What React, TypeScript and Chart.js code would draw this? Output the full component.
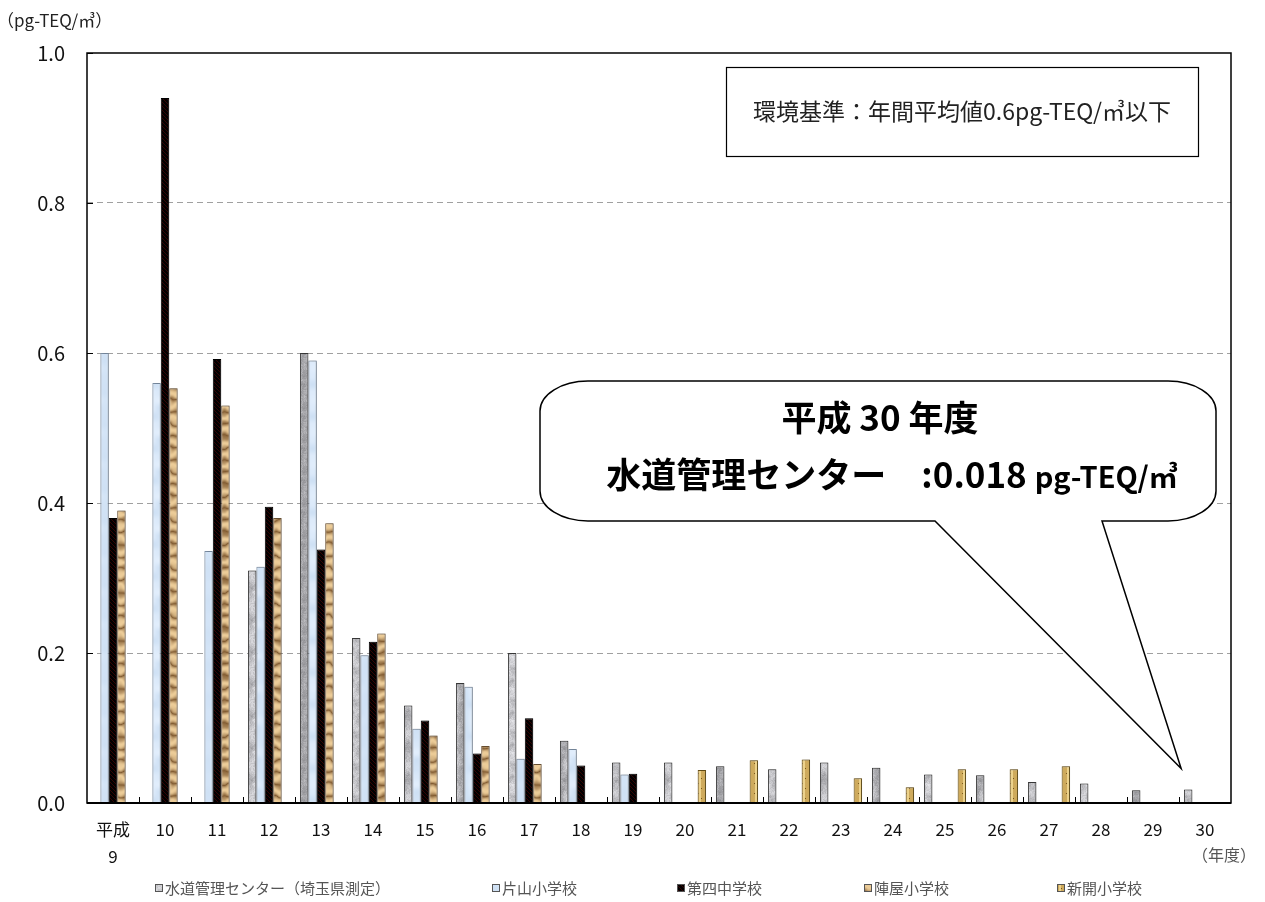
import { useEffect, useRef } from 'react';
import { Chart, registerables } from 'chart.js';

Chart.register(...registerables);

// 年度（平成9〜30年度）
const yearLabels: (string | string[])[] = [
  ['平成', '9'], '10', '11', '12', '13', '14', '15', '16', '17', '18', '19',
  '20', '21', '22', '23', '24', '25', '26', '27', '28', '29', '30',
];

// ダイオキシン類 年間平均値 (pg-TEQ/㎥)
const suidouCenter = [null, null, null, 0.31, 0.6, 0.22, 0.13, 0.16, 0.2, 0.083, 0.054, 0.054, 0.049, 0.045, 0.054, 0.047, 0.038, 0.037, 0.028, 0.026, 0.017, 0.018];
const katayamaSchool = [0.6, 0.56, 0.336, 0.315, 0.59, 0.197, 0.099, 0.155, 0.059, 0.072, 0.038, null, null, null, null, null, null, null, null, null, null, null];
const daiyonJunior = [0.38, 0.94, 0.592, 0.395, 0.338, 0.215, 0.11, 0.066, 0.113, 0.05, 0.039, null, null, null, null, null, null, null, null, null, null, null];
const jinyaSchool = [0.39, 0.553, 0.53, 0.38, 0.373, 0.226, 0.09, 0.076, 0.052, null, null, null, null, null, null, null, null, null, null, null, null, null];
const shinkaiSchool = [null, null, null, null, null, null, null, null, null, null, null, 0.044, 0.057, 0.058, 0.033, 0.021, 0.045, 0.045, 0.049, null, null, null];

const seriesNames = ['水道管理センター（埼玉県測定）', '片山小学校', '第四中学校', '陣屋小学校', '新開小学校'];

const yTickValues = [0, 0.2, 0.4, 0.6, 0.8, 1.0];

const unitLabel = '（pg-TEQ/㎥）';
const yearUnitLabel = '（年度）';
const standardText = '環境基準：年間平均値0.6pg-TEQ/㎥以下';
const calloutTitle = '平成 30 年度';
const calloutSite = '水道管理センター　:';
const calloutUnit = 'pg-TEQ/㎥';

const FONT = '"Noto Sans CJK JP", "Noto Sans", sans-serif';

// ---------- texture tiles ----------
function hash(x: number, y: number, s: number) {
  const v = Math.sin(x * 127.1 + y * 311.7 + s * 74.7) * 43758.5453;
  return v - Math.floor(v);
}
function lerp(a: number, b: number, t: number) {
  return a + (b - a) * t;
}
function smooth(x: number, y: number, cell: number, s: number, w: number, h: number) {
  const cx = Math.round(w / cell);
  const cy = Math.round(h / cell);
  const fx = x / cell;
  const fy = y / cell;
  const i0 = Math.floor(fx);
  const j0 = Math.floor(fy);
  const tx = fx - i0;
  const ty = fy - j0;
  const sx = tx * tx * (3 - 2 * tx);
  const sy = ty * ty * (3 - 2 * ty);
  const h00 = hash(i0 % cx, j0 % cy, s);
  const h10 = hash((i0 + 1) % cx, j0 % cy, s);
  const h01 = hash(i0 % cx, (j0 + 1) % cy, s);
  const h11 = hash((i0 + 1) % cx, (j0 + 1) % cy, s);
  return lerp(lerp(h00, h10, sx), lerp(h01, h11, sx), sy);
}

type Painter = (x: number, y: number, w: number, h: number) => [number, number, number];

function makePattern(w: number, h: number, paint: Painter): CanvasPattern | string {
  const c = document.createElement('canvas');
  c.width = w;
  c.height = h;
  const g = c.getContext('2d');
  if (!g) return '#999';
  const img = g.createImageData(w, h);
  for (let y = 0; y < h; y++) {
    for (let x = 0; x < w; x++) {
      const [r, gg, b] = paint(x, y, w, h);
      const k = (y * w + x) * 4;
      img.data[k] = Math.max(0, Math.min(255, r));
      img.data[k + 1] = Math.max(0, Math.min(255, gg));
      img.data[k + 2] = Math.max(0, Math.min(255, b));
      img.data[k + 3] = 255;
    }
  }
  g.putImageData(img, 0, 0);
  return g.createPattern(c, 'repeat') || '#999';
}

// speckled grey stone
const granite: Painter = (x, y, w, h) => {
  const n = 0.5 * smooth(x, y, 8, 1, w, h) + 0.3 * smooth(x, y, 4, 2, w, h) + 0.2 * hash(x, y, 3);
  const v = 128 + 122 * n;
  return [v, v, v + 4];
};
// pale blue parchment
const paleBlue: Painter = (x, y, w, h) => {
  const n = smooth(x, y, 8, 5, w, h);
  return [206 + 20 * n, 224 + 14 * n, 244 + 8 * n];
};
// black with fine dark-red diagonals
const darkHatch: Painter = (x, y) => {
  return (x - y + 64) % 4 === 0 ? [52, 4, 4] : [2, 0, 0];
};
// crumpled brown paper
const wood: Painter = (x, y, w, h) => {
  const warp = 3.5 * smooth(x, y, 8, 7, w, h) + 1.2 * smooth(x, y, 4, 8, w, h);
  const s = 0.5 + 0.5 * Math.sin((y * 2 * Math.PI) / 12 + warp);
  const t = Math.pow(s, 0.45);
  return [lerp(130, 236, t), lerp(92, 204, t), lerp(50, 152, t)];
};
// gold with small dark flecks
const goldDots: Painter = (x, y) => {
  if ((x === 2 && y % 10 === 3) || (x === 5 && y % 10 === 8)) return [120, 88, 30];
  if (x >= 3 && x <= 4) return [236, 210, 140];
  return [206, 170, 92];
};

export default function App() {
  const ref = useRef<HTMLCanvasElement>(null);

  useEffect(() => {
    const canvas = ref.current;
    if (!canvas) return;

    const fills = [
      makePattern(32, 32, granite),
      makePattern(32, 32, paleBlue),
      makePattern(8, 8, darkHatch),
      makePattern(32, 48, wood),
      makePattern(8, 10, goldDots),
    ];
    const borders = ['#3c3c3c', '#7d90a6', '#000000', '#6e5333', '#6a5218'];
    const seriesData = [suidouCenter, katayamaSchool, daiyonJunior, jinyaSchool, shinkaiSchool];

    const decor = {
      id: 'decor',
      beforeDatasetsDraw(chart: Chart) {
        const ctx = chart.ctx;
        ctx.save();
        ctx.shadowColor = 'rgba(0,0,0,0.28)';
        ctx.shadowBlur = 2;
        ctx.shadowOffsetX = 1;
        ctx.shadowOffsetY = 0;
      },
      afterDatasetsDraw(chart: Chart) {
        const ctx = chart.ctx;
        ctx.restore();
        const a = chart.chartArea;
        const yScale = chart.scales.y;
        const n = yearLabels.length;
        ctx.save();
        ctx.strokeStyle = '#000';
        ctx.lineWidth = 1.5;
        ctx.strokeRect(a.left, a.top, a.right - a.left, a.bottom - a.top);
        ctx.lineWidth = 2;
        ctx.beginPath();
        ctx.moveTo(a.left, a.bottom);
        ctx.lineTo(a.right, a.bottom);
        ctx.stroke();
        // tick marks on the inside of the axes
        ctx.lineWidth = 1;
        ctx.beginPath();
        const cw = (a.right - a.left) / n;
        for (let i = 1; i < n; i++) {
          const bx = Math.round(a.left + i * cw) + 0.5;
          ctx.moveTo(bx, a.bottom);
          ctx.lineTo(bx, a.bottom - 6);
        }
        for (const v of yTickValues) {
          const yy = Math.round(yScale.getPixelForValue(v)) + 0.5;
          ctx.moveTo(a.left, yy);
          ctx.lineTo(a.left + 6, yy);
        }
        ctx.stroke();
        ctx.restore();
      },
      afterDraw(chart: Chart) {
        const ctx = chart.ctx;
        const a = chart.chartArea;
        ctx.save();

        // axis unit labels
        ctx.fillStyle = '#222';
        ctx.font = `17px ${FONT}`;
        ctx.textBaseline = 'middle';
        ctx.textAlign = 'left';
        ctx.fillText(unitLabel, -3, 21);
        ctx.fillStyle = '#555';
        ctx.font = `16px ${FONT}`;
        ctx.fillText(yearUnitLabel, a.right - 39, 855);

        // environmental standard box
        const bx0 = a.right - 505;
        const by0 = a.top + 14;
        const bw = 472;
        const bh = 89;
        ctx.fillStyle = '#fff';
        ctx.fillRect(bx0, by0, bw, bh);
        ctx.strokeStyle = '#000';
        ctx.lineWidth = 1.2;
        ctx.strokeRect(bx0 + 0.5, by0 + 0.5, bw, bh);
        ctx.fillStyle = '#222';
        ctx.font = `23px ${FONT}`;
        ctx.textAlign = 'center';
        ctx.fillText(standardText, bx0 + bw / 2, by0 + bh / 2);

        // callout pointing at the latest bar
        const lastIdx = suidouCenter.length - 1;
        const meta = chart.getDatasetMeta(0);
        const bar = meta.data[lastIdx] as any;
        const tipX = bar.x - 7;
        const tipY = bar.y - 21;
        const L = 540;
        const R = 1216;
        const T = 381;
        const B = 521;
        const rx = 48;
        const ry = 30;
        const k = 0.5523;
        const p1 = 935;
        const p2 = 1102;
        ctx.beginPath();
        ctx.moveTo(L + rx, T);
        ctx.lineTo(R - rx, T);
        ctx.bezierCurveTo(R - rx + rx * k, T, R, T + ry - ry * k, R, T + ry);
        ctx.lineTo(R, B - ry);
        ctx.bezierCurveTo(R, B - ry + ry * k, R - rx + rx * k, B, R - rx, B);
        ctx.lineTo(p2, B);
        ctx.lineTo(tipX, tipY);
        ctx.lineTo(p1, B);
        ctx.lineTo(L + rx, B);
        ctx.bezierCurveTo(L + rx - rx * k, B, L, B - ry + ry * k, L, B - ry);
        ctx.lineTo(L, T + ry);
        ctx.bezierCurveTo(L, T + ry - ry * k, L + rx - rx * k, T, L + rx, T);
        ctx.closePath();
        ctx.fillStyle = '#fff';
        ctx.fill();
        ctx.strokeStyle = '#000';
        ctx.lineWidth = 1.5;
        ctx.stroke();

        ctx.fillStyle = '#000';
        ctx.textBaseline = 'alphabetic';
        ctx.textAlign = 'center';
        ctx.font = `bold 35px ${FONT}`;
        ctx.fillText(calloutTitle, 880, 431);

        const lastValue = suidouCenter[lastIdx] as number;
        const partA = calloutSite + lastValue.toFixed(3) + ' ';
        ctx.font = `bold 35px ${FONT}`;
        const wA = ctx.measureText(partA).width;
        ctx.font = `bold 29px ${FONT}`;
        const wB = ctx.measureText(calloutUnit).width;
        const startX = 892 - (wA + wB) / 2;
        ctx.textAlign = 'left';
        ctx.font = `bold 35px ${FONT}`;
        ctx.fillText(partA, startX, 488);
        ctx.font = `bold 29px ${FONT}`;
        ctx.fillText(calloutUnit, startX + wA, 488);

        // legend
        const legendX = [155, 492, 677, 864, 1057];
        const legendY = 888;
        ctx.textBaseline = 'middle';
        ctx.font = `15px ${FONT}`;
        seriesNames.forEach((name, i) => {
          const mx = legendX[i];
          ctx.fillStyle = fills[i] as any;
          ctx.fillRect(mx, legendY - 4, 7, 7);
          ctx.strokeStyle = '#555';
          ctx.lineWidth = 1;
          ctx.strokeRect(mx + 0.5, legendY - 3.5, 7, 7);
          ctx.fillStyle = '#555';
          ctx.fillText(name, mx + 10, legendY);
        });

        ctx.restore();
      },
    };

    const chart = new Chart(canvas, {
      type: 'bar',
      data: {
        labels: yearLabels as any,
        datasets: seriesData.map((d, i) => ({
          label: seriesNames[i],
          data: d as (number | null)[],
          backgroundColor: fills[i] as any,
          borderColor: borders[i],
          borderWidth: 1,
          categoryPercentage: 0.81,
          barPercentage: 1,
        })),
      },
      options: {
        responsive: false,
        animation: false,
        devicePixelRatio: 1,
        layout: { padding: { top: 53, right: 34, left: 0, bottom: 0 } },
        plugins: {
          legend: { display: false },
          tooltip: { enabled: false },
        },
        scales: {
          x: {
            type: 'category',
            offset: true,
            grid: { display: false, drawTicks: false },
            border: { display: false },
            ticks: {
              autoSkip: false,
              maxRotation: 0,
              color: '#111',
              padding: 13,
              font: { family: FONT, size: 17, lineHeight: 1.6 },
            },
            afterFit(s: any) {
              s.height = 99;
            },
          },
          y: {
            min: 0,
            max: 1,
            ticks: {
              stepSize: 0.2,
              color: '#111',
              padding: 22,
              font: { family: FONT, size: 20 },
              callback: (v: any) => Number(v).toFixed(1),
            },
            grid: {
              drawTicks: false,
              lineWidth: 1,
              color: (c: any) => (c.tick && c.tick.value > 0.001 && c.tick.value < 0.999 ? '#a0a0a0' : 'rgba(0,0,0,0)'),
            },
            border: { display: false, dash: [6, 4] },
            afterFit(s: any) {
              s.width = 87;
            },
          },
        },
      },
      plugins: [decor],
    });

    let alive = true;
    if ((document as any).fonts && (document as any).fonts.load) {
      Promise.all([
        (document as any).fonts.load(`17px "Noto Sans CJK JP"`),
        (document as any).fonts.load(`bold 34px "Noto Sans CJK JP"`),
      ]).then(() => {
        if (alive) chart.update();
      }).catch(() => {});
    }

    return () => {
      alive = false;
      chart.destroy();
    };
  }, []);

  return (
    <div style={{ position: 'absolute', left: 0, top: 0, width: 1265, height: 902, background: '#fff' }}>
      <canvas ref={ref} width={1265} height={902} style={{ display: 'block', width: 1265, height: 902 }} />
    </div>
  );
}
